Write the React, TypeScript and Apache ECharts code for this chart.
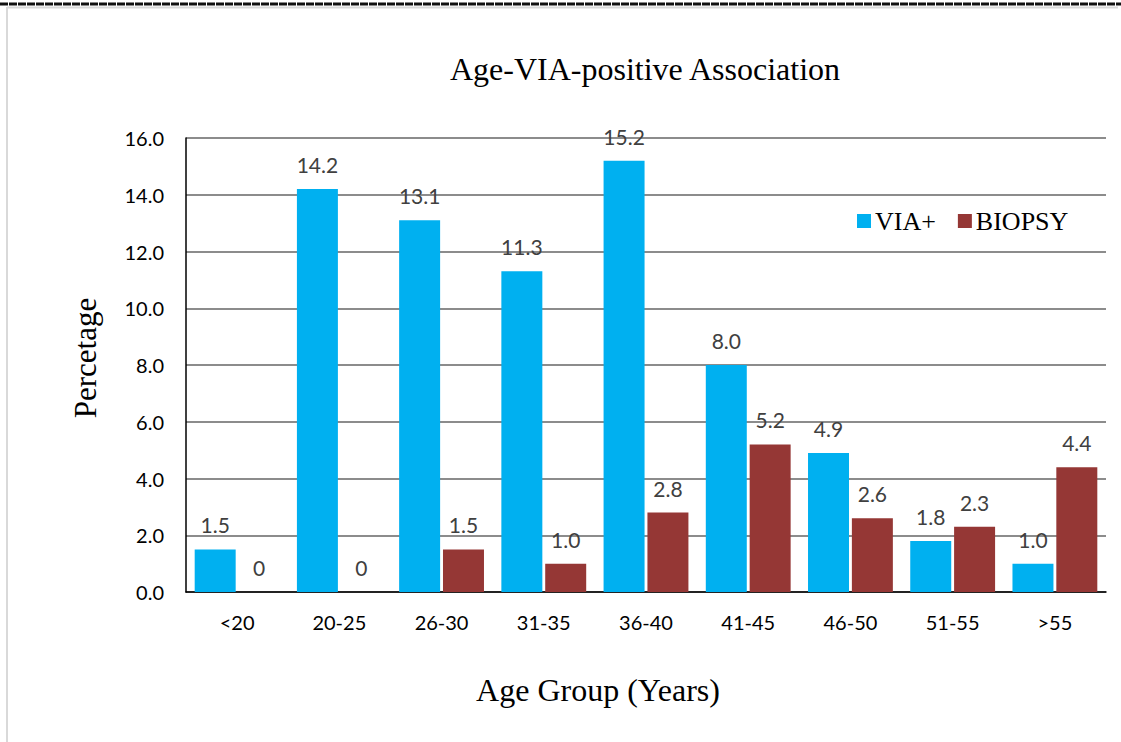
import React, { useEffect, useRef } from "react";
import * as echarts from "echarts";

const categories = ["<20", "20-25", "26-30", "31-35", "36-40", "41-45", "46-50", "51-55", ">55"];
const viaValues = [1.5, 14.2, 13.1, 11.3, 15.2, 8.0, 4.9, 1.8, 1.0];
const biopsyValues = [0, 0, 1.5, 1.0, 2.8, 5.2, 2.6, 2.3, 4.4];
const yTicks = { min: 0, max: 16, interval: 2 };

const labelFont = "Lato, 'Open Sans', sans-serif";
const serif = "'Liberation Serif', 'Times New Roman', serif";

const fmt = (v: number) => (v === 0 ? "0" : v.toFixed(1));

export default function App() {
  const ref = useRef<HTMLDivElement>(null);
  useEffect(() => {
    if (!ref.current) return;
    const chart = echarts.init(ref.current, null, { renderer: "svg" });
    const labelCfg = {
      show: true,
      position: "top",
      distance: 14,
      color: "#404040",
      fontFamily: labelFont,
      fontSize: 21,
      formatter: (p: any) => fmt(p.value),
    };
    chart.setOption({
      animation: false,
      backgroundColor: "#ffffff",
      title: {
        text: "Age-VIA-positive Association",
        left: 640,
        textAlign: "center",
        top: 48,
        textStyle: { fontFamily: serif, fontSize: 32, fontWeight: "normal", color: "#000" },
      },
      legend: {
        data: ["VIA+", "BIOPSY"],
        left: 852,
        top: 203,
        icon: "rect",
        itemWidth: 14,
        itemHeight: 14,
        itemGap: 22,
        textStyle: { fontFamily: serif, fontSize: 26, color: "#000", padding: [0, 0, 0, -1] },
      },
      grid: { left: 186, right: 15, top: 138, bottom: 150 },
      xAxis: {
        type: "category",
        data: categories,
        axisLine: { lineStyle: { color: "#000", width: 1.5 } },
        axisTick: { show: false },
        axisLabel: { color: "#000", fontFamily: labelFont, fontSize: 20, margin: 20 },
      },
      yAxis: {
        type: "value",
        min: yTicks.min,
        max: yTicks.max,
        interval: yTicks.interval,
        axisLine: { show: true, lineStyle: { color: "#000", width: 1.5 } },
        axisTick: { show: false },
        splitLine: { lineStyle: { color: "#666", width: 1.5 } },
        axisLabel: {
          color: "#000",
          fontFamily: labelFont,
          fontSize: 20,
          margin: 22,
          formatter: (v: number) => v.toFixed(1),
        },
      },
      series: [
        {
          name: "VIA+",
          type: "bar",
          data: viaValues,
          itemStyle: { color: "#00B0F0" },
          barGap: "7%",
          barCategoryGap: "17%",
          label: labelCfg,
        },
        {
          name: "BIOPSY",
          type: "bar",
          data: biopsyValues,
          itemStyle: { color: "#953735" },
          label: labelCfg,
        },
      ],
      graphic: [
        {
          type: "line",
          shape: { x1: 0, y1: 4, x2: 1121, y2: 4 },
          style: { stroke: "#111", lineWidth: 3, lineDash: [8, 1] },
        },
        {
          type: "line",
          shape: { x1: 7, y1: 7.5, x2: 1118, y2: 7.5 },
          style: { stroke: "#d9d9d9", lineWidth: 2 },
        },
        {
          type: "line",
          shape: { x1: 7, y1: 7, x2: 7, y2: 742 },
          style: { stroke: "#d9d9d9", lineWidth: 2 },
        },
        {
          type: "text",
          x: 85,
          y: 358,
          rotation: Math.PI / 2,
          style: {
            text: "Percetage",
            fontFamily: serif,
            fontSize: 31,
            fill: "#000",
            align: "center",
            verticalAlign: "middle",
          },
        },
        {
          type: "text",
          x: 598,
          y: 690,
          style: {
            text: "Age Group (Years)",
            fontFamily: serif,
            fontSize: 32,
            fill: "#000",
            align: "center",
            verticalAlign: "middle",
          },
        },
      ],
    });
    return () => chart.dispose();
  }, []);
  return (
    <div
      ref={ref}
      style={{ position: "fixed", left: 0, top: 0, width: 1121, height: 742 }}
    />
  );
}
